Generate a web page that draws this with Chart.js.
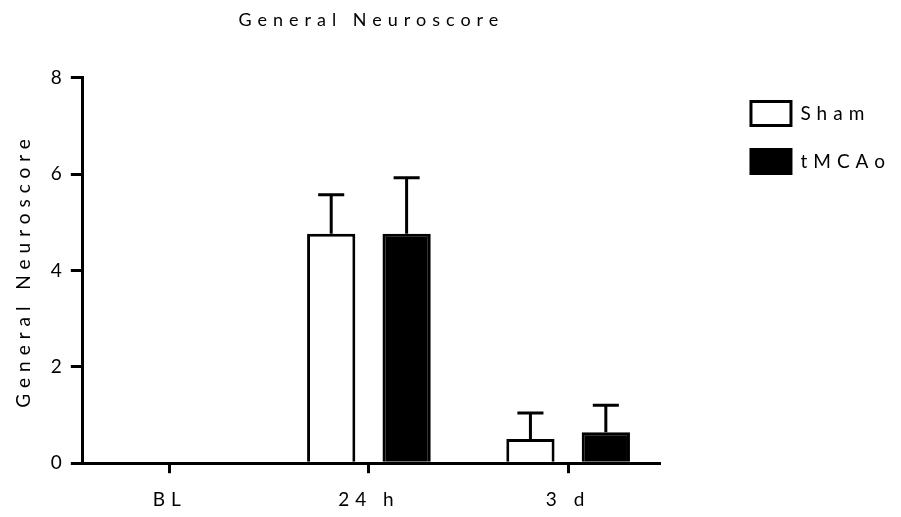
<!DOCTYPE html>
<html>
<head>
<meta charset="utf-8">
<script src="https://cdn.jsdelivr.net/npm/chart.js@4"></script>
<style>
  html, body { margin: 0; padding: 0; background: #fff; }
  canvas { display: block; }
</style>
</head>
<body>
<canvas id="neuro-chart" width="901" height="517"></canvas>
<script>
// ---- data ----
const groups   = ['BL', '24 h', '3 d'];
const shamMean = [0, 4.76, 0.5];
const shamErr  = [0, 0.81, 0.54];
const mcaoMean = [0, 4.76, 0.64];
const mcaoErr  = [0, 1.16, 0.56];
const yTicks   = [0, 2, 4, 6, 8];

const FONT = { family: 'Lato, "Open Sans", sans-serif', size: 19, weight: 'normal' };
const SPACING = '6px';

// canvas has no letter-spacing option in Chart.js, so set it on the context
const spacedText = {
  id: 'spacedText',
  beforeLayout(chart) { chart.ctx.letterSpacing = SPACING; },
  beforeDraw(chart) { chart.ctx.letterSpacing = SPACING; }
};

// upper SEM whiskers
const errorBars = {
  id: 'errorBars',
  afterDatasetsDraw(chart) {
    const { ctx, scales: { y } } = chart;
    ctx.save();
    ctx.strokeStyle = '#000';
    ctx.lineWidth = 3;
    chart.data.datasets.forEach((ds, di) => {
      chart.getDatasetMeta(di).data.forEach((bar, i) => {
        const err = ds.errors[i];
        if (!err) return;
        const top = y.getPixelForValue(ds.data[i].y + err);
        const cap = bar.width * 0.27;
        ctx.beginPath();
        ctx.moveTo(bar.x, bar.y);
        ctx.lineTo(bar.x, top);
        ctx.moveTo(bar.x - cap, top);
        ctx.lineTo(bar.x + cap, top);
        ctx.stroke();
      });
    });
    ctx.restore();
  }
};

const ctx = document.getElementById('neuro-chart');

new Chart(ctx, {
  type: 'bar',
  data: {
    datasets: [
      {
        label: 'Sham',
        data: shamMean.map((v, i) => ({ x: i, y: v })),
        errors: shamErr,
        backgroundColor: '#fff', borderColor: '#000', borderWidth: 3,
        categoryPercentage: 0.757, barPercentage: 0.64,
      },
      {
        label: 'tMCAo',
        data: mcaoMean.map((v, i) => ({ x: i, y: v })),
        errors: mcaoErr,
        backgroundColor: '#000', borderColor: '#000', borderWidth: 3,
        categoryPercentage: 0.757, barPercentage: 0.64,
      }
    ]
  },
  options: {
    responsive: false,
    animation: false,
    layout: { padding: { left: 8, right: 0, top: 9, bottom: -9 } },
    plugins: {
      title: {
        display: true, text: 'General Neuroscore', fullSize: false,
        color: '#000', font: { ...FONT, size: 18 },
        padding: { top: 0, bottom: 47 }
      },
      legend: {
        position: 'right', align: 'start', fullSize: false, maxWidth: 220,
        labels: { boxWidth: 40, boxHeight: 24, padding: 24, color: '#000', font: FONT }
      },
      tooltip: { enabled: false }
    },
    scales: {
      x: {
        type: 'linear', min: -0.436, max: 2.461, offset: false,
        afterBuildTicks: s => { s.ticks = groups.map((g, i) => ({ value: i })); },
        ticks: { callback: v => groups[v], color: '#000', font: FONT, padding: 15, maxRotation: 0 },
        grid: { offset: false, drawOnChartArea: false, color: '#000', lineWidth: 3, tickLength: 10 },
        border: { color: '#000', width: 3 }
      },
      y: {
        min: 0, max: 8,
        afterBuildTicks: s => { s.ticks = yTicks.map(v => ({ value: v })); },
        ticks: { color: '#000', font: FONT, padding: 3 },
        grid: { drawOnChartArea: false, color: '#000', lineWidth: 3, tickLength: 12 },
        border: { color: '#000', width: 3 },
        title: { display: true, text: 'General Neuroscore', color: '#000', font: FONT, padding: { top: 4, bottom: 13 } }
      },
      gap: {
        type: 'linear', position: 'right', display: true,
        grid: { display: false }, ticks: { display: false }, border: { display: false },
        afterFit: s => { s.width = 67; }
      }
    }
  },
  plugins: [spacedText, errorBars]
});
</script>
</body>
</html>
